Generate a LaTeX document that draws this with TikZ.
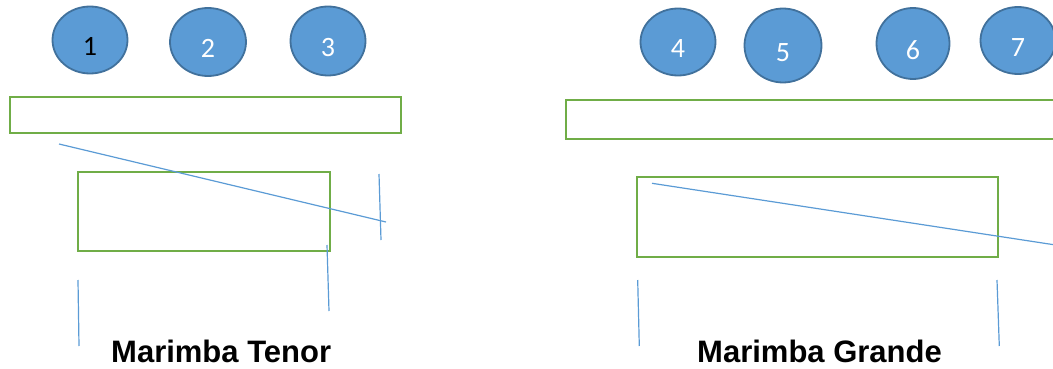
\documentclass[tikz,border=0pt]{standalone}
\usepackage{fontspec}
\setmainfont{Liberation Sans}
\newfontfamily\numfont{Carlito}
\usetikzlibrary{shapes.geometric}
\definecolor{ballfill}{HTML}{5B9BD5}
\definecolor{balldraw}{HTML}{41719C}
\definecolor{boxgreen}{HTML}{70AD47}
\definecolor{lineblue}{HTML}{5B9BD5}
\tikzset{
  ball/.style={ellipse, draw=balldraw, fill=ballfill, line width=1.8pt, inner sep=0pt,
    font=\numfont\fontsize{28}{28}\selectfont, text=white, text height=31.6pt, text depth=0pt},
  bar/.style={rectangle, draw=boxgreen, line width=2.8pt, inner sep=0pt},
  thin/.style={draw=lineblue, line width=1.2pt},
  title/.style={font=\bfseries\fontsize{31}{31}\selectfont, text=black, inner sep=0pt, anchor=base west}
}
\begin{document}
\begin{tikzpicture}[x=1pt,y=-1pt]
\useasboundingbox (0,0) rectangle (1053,369);
\clip (0,0) rectangle (1053,369);
% balls left
\node[ball, minimum width=75pt, minimum height=67pt, text=black] (b1) at (90,40) {1};
\node[ball, minimum width=76pt, minimum height=68pt] (b2) at (208,42) {2};
\node[ball, minimum width=75pt, minimum height=69pt] (b3) at (328,41) {3};
% balls right
\node[ball, minimum width=75pt, minimum height=67pt] (b4) at (678,42) {4};
\node[ball, minimum width=77pt, minimum height=74pt] (b5) at (783,45.5) {5};
\node[ball, minimum width=73pt, minimum height=71pt] (b6) at (913,43.5) {6};
\node[ball, minimum width=75pt, minimum height=67pt] (b7) at (1018,40.5) {7};
% bars left
\node[bar, minimum width=391pt, minimum height=36pt] (t1) at (205.5,115) {};
\node[bar, minimum width=252pt, minimum height=79pt] (r1) at (204,211.5) {};
% bars right
\node[bar, minimum width=504pt, minimum height=39pt] (t2) at (818,119.5) {};
\node[bar, minimum width=361pt, minimum height=80pt] (r2) at (817.5,217) {};
% thin lines left
\coordinate (a1) at (59,144);
\coordinate (a2) at (386,222);
\coordinate (v1) at (379,174);
\coordinate (v2) at (381,240);
\coordinate (w1) at (327,245);
\coordinate (w2) at (329,311);
\coordinate (u1) at (78,280);
\coordinate (u2) at (79,346);
\draw[thin] (a1) -- (a2);
\draw[thin] (v1) -- (v2);
\draw[thin] (w1) -- (w2);
\draw[thin] (u1) -- (u2);
% thin lines right
\coordinate (c1) at (652,183.3);
\coordinate (c2) at (1070,247.2);
\coordinate (p1) at (637.7,280);
\coordinate (p2) at (639.3,346);
\coordinate (q1) at (997,280);
\coordinate (q2) at (999.3,346);
\draw[thin] (c1) -- (c2);
\draw[thin] (p1) -- (p2);
\draw[thin] (q1) -- (q2);
% titles
\node[title] (tt) at (111,362) {Marimba Tenor};
\node[title] (tg) at (697,362) {Marimba Grande};
\end{tikzpicture}
\end{document}
